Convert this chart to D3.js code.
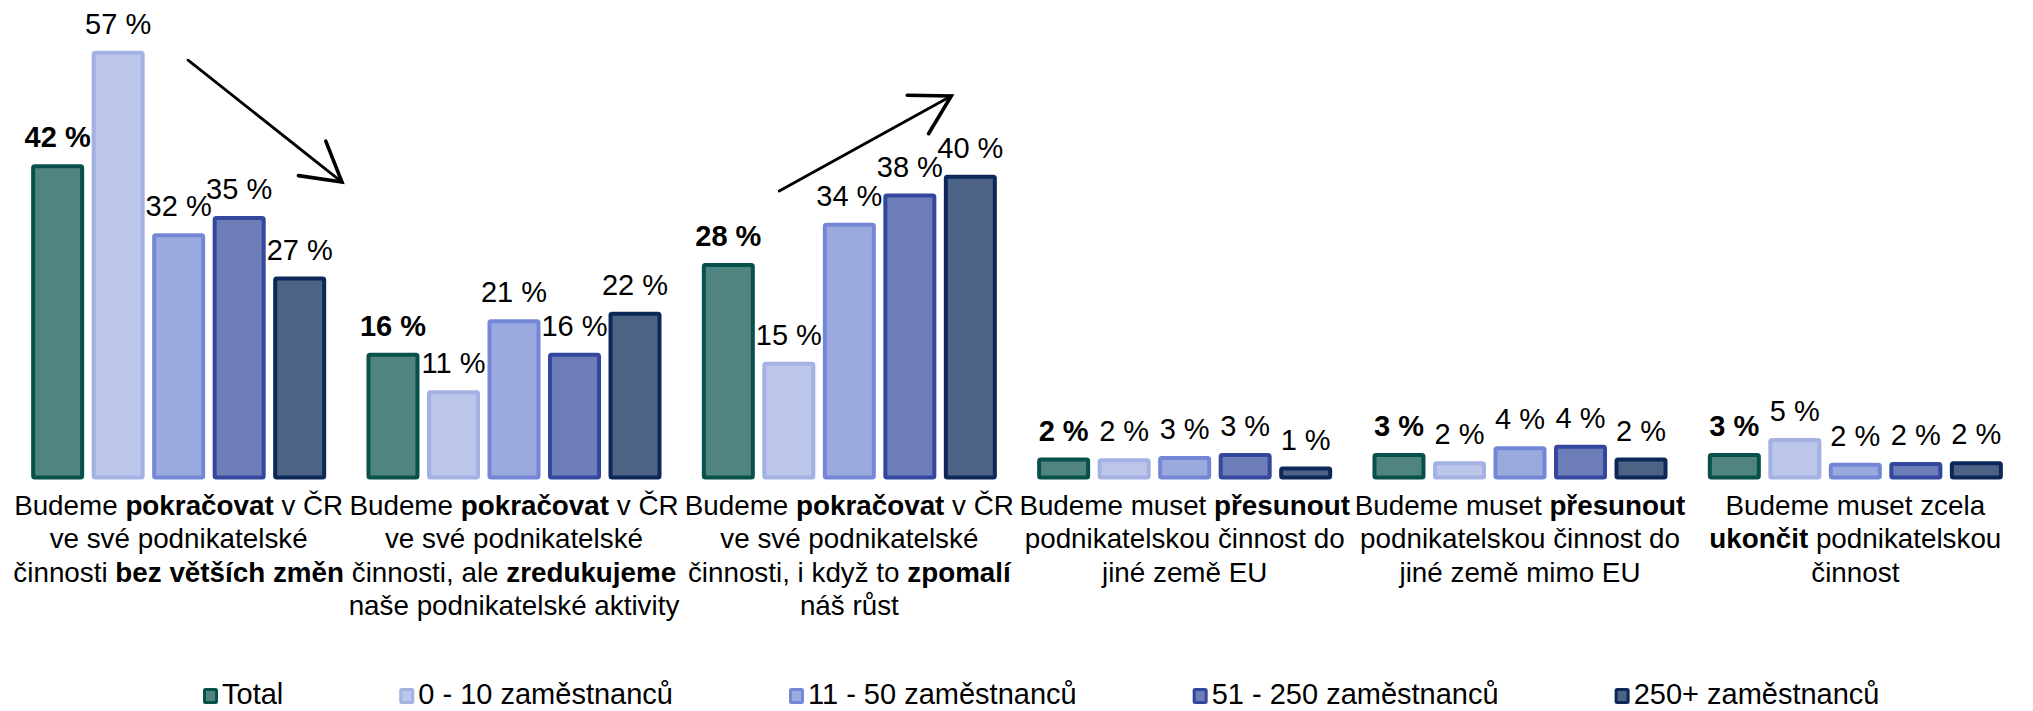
<!DOCTYPE html>
<html>
<head>
<meta charset="utf-8">
<script src="https://cdn.jsdelivr.net/npm/d3@7"></script>
<style>
	body { margin: 0; background: #fff; }
	text { font-family: "Liberation Sans", Arial, sans-serif; fill: #000; }
</style>
</head>
<body>
<div class="chart"></div>
<script>
// category labels, **text** = bold part
var categories = [
	["Budeme **pokračovat** v ČR", "ve své podnikatelské", "činnosti **bez větších změn**"],
	["Budeme **pokračovat** v ČR", "ve své podnikatelské", "činnosti, ale **zredukujeme**", "naše podnikatelské aktivity"],
	["Budeme **pokračovat** v ČR", "ve své podnikatelské", "činnosti, i když to **zpomalí**", "náš růst"],
	["Budeme muset **přesunout**", "podnikatelskou činnost do", "jiné země EU"],
	["Budeme muset **přesunout**", "podnikatelskou činnost do", "jiné země mimo EU"],
	["Budeme muset zcela", "**ukončit** podnikatelskou", "činnost"]
];

var seriesNames = ["Total", "0 - 10 zaměstnanců", "11 - 50 zaměstnanců", "51 - 250 zaměstnanců", "250+ zaměstnanců"];

var total     = [41.6, 16.4, 28.4, 2.4, 3.0, 3.0];
var emp0_10   = [56.8, 11.4, 15.2, 2.3, 1.9, 5.0];
var emp11_50  = [32.4, 20.9, 33.8, 2.6, 3.9, 1.7];
var emp51_250 = [34.7, 16.4, 37.7, 3.0, 4.1, 1.8];
var emp250    = [26.6, 21.9, 40.2, 1.2, 2.4, 1.9];

var fills   = ["#4f8480", "#bcc6ea", "#9aaadf", "#6c7db8", "#4d6385"];
var strokes = ["#08504b", "#a3b1e3", "#7487d6", "#33489d", "#0c2858"];

// trend arrows in data space: [category, fraction of band, value]
var arrows = [
	{from: [0, 0.528, 55.8], to: [0, 0.987, 39.5]},
	{from: [2, 0.291, 38.3], to: [2, 0.804, 51.0]}
];

var allSeries = [total, emp0_10, emp11_50, emp51_250, emp250];

var width = 2033, height = 711;

var svg = d3.select(".chart").append("svg")
	.attr("width", width)
	.attr("height", height)
	.style("display", "block");

var x0 = d3.scaleBand().domain(d3.range(categories.length)).range([11, 2023]);
var x1 = d3.scaleBand().domain(d3.range(seriesNames.length)).range([0, x0.bandwidth()])
	.paddingInner(0.124).paddingOuter(0.333);
var y = d3.scaleLinear().domain([0, 60]).range([477.5, 477.5 - 7.48 * 60]);

var sw = 4;

var data = [];
categories.forEach(function(c, i){
	allSeries.forEach(function(s, j){
		data.push({cat: i, ser: j, value: s[i]});
	});
});

// bars
svg.append("g").selectAll("rect")
	.data(data)
	.join("rect")
	.attr("x", d => x0(d.cat) + x1(d.ser) + sw / 2)
	.attr("width", x1.bandwidth() - sw)
	.attr("y", d => y(d.value))
	.attr("height", d => y(0) - y(d.value))
	.attr("rx", 1.5)
	.style("fill", d => fills[d.ser])
	.style("stroke", d => strokes[d.ser])
	.style("stroke-width", sw);

// value labels
svg.append("g").selectAll("text")
	.data(data)
	.join("text")
	.attr("x", d => x0(d.cat) + x1(d.ser) + x1.bandwidth() / 2)
	.attr("y", d => y(d.value) - 19)
	.attr("text-anchor", "middle")
	.style("font-size", "29px")
	.style("font-weight", d => d.ser == 0 ? "bold" : "normal")
	.text(d => Math.round(d.value) + " %");

// category labels
function addRich(sel, str){
	str.split("**").forEach(function(part, k){
		if (!part) return;
		sel.append("tspan").style("font-weight", k % 2 ? "bold" : "normal").text(part);
	});
}

var catG = svg.append("g");
categories.forEach(function(lines, i){
	lines.forEach(function(line, j){
		var t = catG.append("text")
			.attr("x", x0(i) + x0.bandwidth() / 2)
			.attr("y", 515 + j * 33.3)
			.attr("text-anchor", "middle")
			.style("font-size", "27.8px");
		addRich(t, line);
	});
});

// arrows
function pt(p){
	return [x0(p[0]) + p[1] * x0.bandwidth(), y(p[2])];
}
var arrowG = svg.append("g").style("fill", "none").style("stroke", "#000").style("stroke-linecap", "round");
arrows.forEach(function(a){
	var s = pt(a.from), e = pt(a.to);
	var ang = Math.atan2(e[1] - s[1], e[0] - s[0]);
	var len = 44, spread = Math.PI / 6;
	arrowG.append("line")
		.attr("x1", s[0]).attr("y1", s[1])
		.attr("x2", e[0]).attr("y2", e[1])
		.style("stroke-width", 2.8);
	var h1 = [e[0] - len * Math.cos(ang - spread), e[1] - len * Math.sin(ang - spread)];
	var h2 = [e[0] - len * Math.cos(ang + spread), e[1] - len * Math.sin(ang + spread)];
	arrowG.append("path")
		.attr("d", "M" + h1 + "L" + e + "L" + h2)
		.style("stroke-width", 3.6)
		.style("stroke-linejoin", "miter");
});

// legend
var legend = svg.append("g");
var lx = 203, ly = 704;
seriesNames.forEach(function(name, j){
	legend.append("rect")
		.attr("x", lx + 1.5).attr("y", ly - 16 + 1.5)
		.attr("width", 12).attr("height", 13)
		.attr("rx", 1)
		.style("fill", fills[j])
		.style("stroke", strokes[j])
		.style("stroke-width", 3);
	var t = legend.append("text")
		.attr("x", lx + 19)
		.attr("y", ly)
		.style("font-size", "29px")
		.text(name);
	lx += 19 + t.node().getComputedTextLength() + 116;
});
</script>
</body>
</html>
